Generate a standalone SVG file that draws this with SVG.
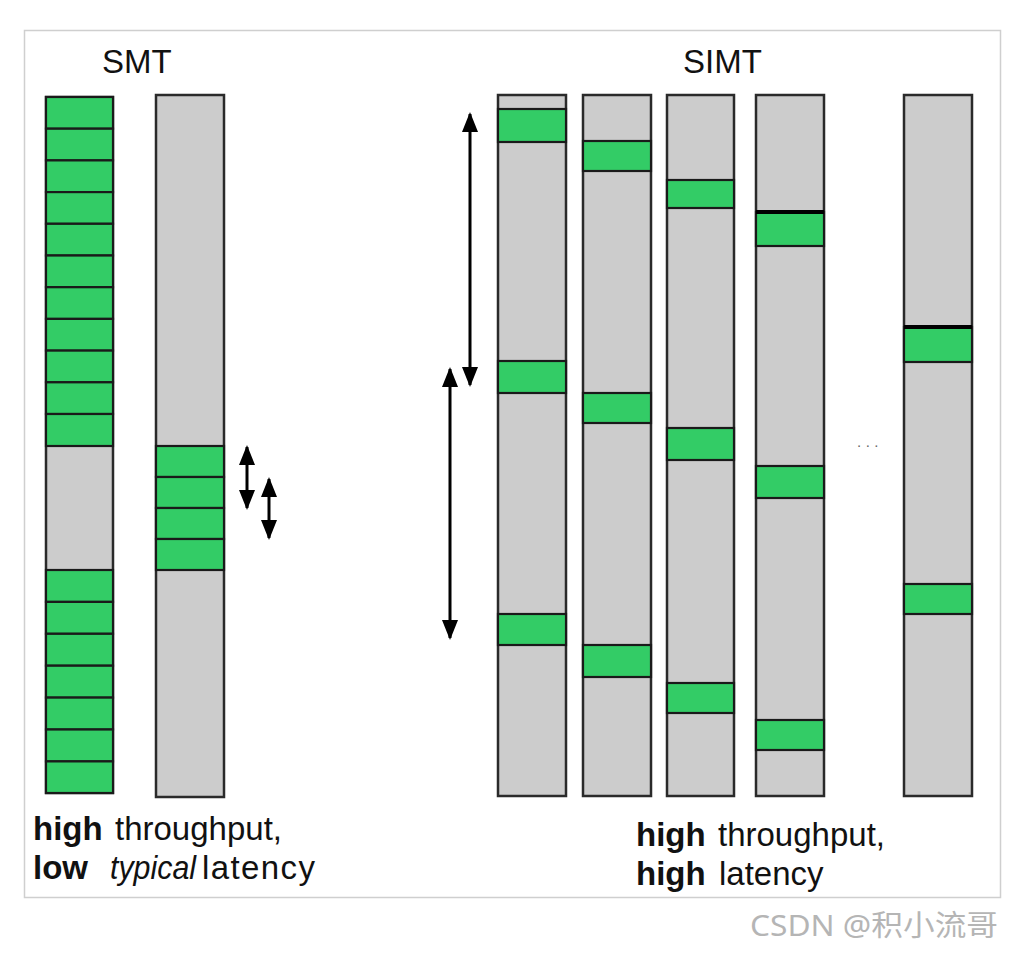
<svg xmlns="http://www.w3.org/2000/svg" width="1024" height="956" viewBox="0 0 1024 956">
<style>
.g{fill:#cccccc;stroke:#2a2a2a;stroke-width:2.5}
.c{fill:#33cc66;stroke:#1a1a1a;stroke-width:2.2}
.k{stroke:#000;stroke-width:4}
.t{font-family:"Liberation Sans",Arial,sans-serif;font-size:33px;fill:#111}
.b{font-weight:bold}
.i{font-style:italic}
.ar{stroke:#000;stroke-width:3;fill:none;marker-start:url(#ah);marker-end:url(#ah)}
</style>
<defs>
<marker id="ah" viewBox="0 0 20 16" refX="18" refY="8" markerWidth="20" markerHeight="16" markerUnits="userSpaceOnUse" orient="auto-start-reverse">
<path d="M0,0 L20,8 L0,16 z" fill="#000"/>
</marker>
</defs>
<rect x="0" y="0" width="1024" height="956" fill="#fff"/>
<rect x="24.5" y="30.5" width="976" height="867" fill="#fff" stroke="#cfcfcf" stroke-width="1.5"/>

<text class="t" x="102" y="73">SMT</text>
<text class="t" x="683" y="73">SIMT</text>

<g id="smt-col1">
<rect class="g" x="46" y="97" width="67" height="696"/>
<rect class="c" x="46" y="97" width="67" height="31.7"/>
<rect class="c" x="46" y="128.7" width="67" height="31.7"/>
<rect class="c" x="46" y="160.4" width="67" height="31.7"/>
<rect class="c" x="46" y="192.1" width="67" height="31.7"/>
<rect class="c" x="46" y="223.8" width="67" height="31.7"/>
<rect class="c" x="46" y="255.5" width="67" height="31.7"/>
<rect class="c" x="46" y="287.2" width="67" height="31.7"/>
<rect class="c" x="46" y="318.9" width="67" height="31.7"/>
<rect class="c" x="46" y="350.6" width="67" height="31.7"/>
<rect class="c" x="46" y="382.3" width="67" height="31.7"/>
<rect class="c" x="46" y="414" width="67" height="32"/>
<rect class="c" x="46" y="570" width="67" height="31.9"/>
<rect class="c" x="46" y="601.9" width="67" height="31.9"/>
<rect class="c" x="46" y="633.8" width="67" height="31.9"/>
<rect class="c" x="46" y="665.7" width="67" height="31.9"/>
<rect class="c" x="46" y="697.6" width="67" height="31.9"/>
<rect class="c" x="46" y="729.5" width="67" height="31.9"/>
<rect class="c" x="46" y="761.4" width="67" height="31.6"/>
</g>

<g id="smt-col2">
<rect class="g" x="156" y="95" width="68" height="702"/>
<rect class="c" x="156" y="446" width="68" height="31"/>
<rect class="c" x="156" y="477" width="68" height="31"/>
<rect class="c" x="156" y="508" width="68" height="31"/>
<rect class="c" x="156" y="539" width="68" height="31"/>
</g>

<g id="simt-col1">
<rect class="g" x="498" y="95" width="68" height="701"/>
<rect class="c" x="498" y="109" width="68" height="33"/>
<rect class="c" x="498" y="361" width="68" height="32"/>
<rect class="c" x="498" y="614" width="68" height="31"/>
</g>
<g id="simt-col2">
<rect class="g" x="583" y="95" width="68" height="701"/>
<rect class="c" x="583" y="141" width="68" height="30"/>
<rect class="c" x="583" y="393" width="68" height="30"/>
<rect class="c" x="583" y="645" width="68" height="32"/>
</g>
<g id="simt-col3">
<rect class="g" x="667" y="95" width="67" height="701"/>
<rect class="c" x="667" y="180" width="67" height="28"/>
<rect class="c" x="667" y="428" width="67" height="32"/>
<rect class="c" x="667" y="683" width="67" height="30"/>
</g>
<g id="simt-col4">
<rect class="g" x="756" y="95" width="68" height="701"/>
<rect class="c" x="756" y="212" width="68" height="34"/>
<line class="k" x1="756" y1="212" x2="824" y2="212"/>
<rect class="c" x="756" y="466" width="68" height="32"/>
<rect class="c" x="756" y="720" width="68" height="30"/>
</g>
<g id="simt-col5">
<rect class="g" x="904" y="95" width="68" height="701"/>
<rect class="c" x="904" y="327" width="68" height="35"/>
<line class="k" x1="904" y1="327" x2="972" y2="327"/>
<rect class="c" x="904" y="584" width="68" height="30"/>
</g>

<text x="857" y="447" style="font-family:'Liberation Sans',Arial,sans-serif;font-size:15px;fill:#666;letter-spacing:4.5px">...</text>

<g id="connectors">
<line class="ar" x1="247" y1="447" x2="247" y2="508"/>
<line class="ar" x1="269" y1="479" x2="269" y2="538"/>
<line class="ar" x1="470" y1="114" x2="470" y2="385"/>
<line class="ar" x1="450" y1="369" x2="450" y2="638"/>
</g>

<g id="label-smt">
<text class="t b" x="33" y="840">high</text>
<text class="t" x="115" y="840">throughput,</text>
<text class="t b" x="33" y="879">low</text>
<text class="t i" x="110" y="879" textLength="86" lengthAdjust="spacingAndGlyphs">typical</text>
<text class="t" x="202" y="879" textLength="113" lengthAdjust="spacing">latency</text>
</g>
<g id="label-simt">
<text class="t b" x="636" y="846">high</text>
<text class="t" x="718" y="846">throughput,</text>
<text class="t b" x="636" y="885">high</text>
<text class="t" x="719" y="885">latency</text>
</g>

<text x="750" y="936" textLength="248" lengthAdjust="spacingAndGlyphs" style="font-family:'Noto Sans','Noto Sans CJK SC',sans-serif;font-size:29px;fill:#b5b5b5">CSDN @积小流哥</text>
</svg>
